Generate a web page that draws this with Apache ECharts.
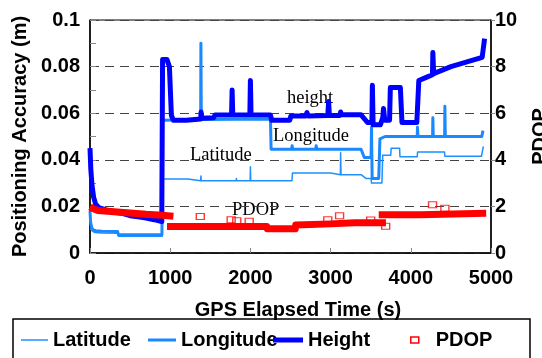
<!DOCTYPE html>
<html>
<head>
<meta charset="utf-8">
<script src="https://cdn.jsdelivr.net/npm/echarts@6/dist/echarts.min.js"></script>
<style>
  html, body { margin: 0; padding: 0; background: #fff; }
  #main { width: 542px; height: 358px; }
</style>
</head>
<body>
<div id="main"></div>
<script>
// axis ranges
const xMax = 5000, xStep = 1000;
const accMax = 0.1, accStep = 0.02;
const pdopMax = 10, pdopStep = 2;

// [elapsed time (s), accuracy (m)]
const latitudeData = [
  [0, 0.016], [8, 0.012], [25, 0.0095], [60, 0.0088], [150, 0.0086], [345, 0.0085], [355, 0.0072], [900, 0.0072],
  [902, 0.0318], [1220, 0.0318], [1225, 0.031], [1380, 0.031], [1383, 0.033], [1388, 0.031],
  [1822, 0.031], [1825, 0.032], [1830, 0.031], [1997, 0.031], [2000, 0.037], [2004, 0.031],
  [2518, 0.031], [2525, 0.0343], [3000, 0.0343], [3005, 0.0336], [3122, 0.0336], [3125, 0.043], [3130, 0.0336],
  [3380, 0.0336], [3440, 0.032], [3505, 0.032], [3510, 0.030], [3640, 0.030], [3650, 0.042], [3750, 0.042],
  [3755, 0.045], [3860, 0.045], [3865, 0.0413], [4080, 0.0413], [4085, 0.0434], [4420, 0.0434],
  [4425, 0.0415], [4880, 0.0415], [4885, 0.041], [4900, 0.041], [4905, 0.0457]
];
const longitudeData = [
  [0, 0.018], [8, 0.013], [25, 0.0105], [60, 0.0095], [150, 0.0093], [345, 0.0092], [355, 0.0078], [897, 0.0078],
  [903, 0.057], [1380, 0.0573], [1383, 0.090], [1388, 0.0573], [2250, 0.0575], [2258, 0.0445],
  [2515, 0.0445], [2520, 0.046], [2528, 0.0445], [2815, 0.0445], [2820, 0.046], [2828, 0.0445],
  [3380, 0.0445], [3420, 0.041], [3505, 0.041], [3510, 0.054], [3518, 0.032], [3600, 0.032],
  [3615, 0.049], [3680, 0.050], [4080, 0.050], [4083, 0.054], [4090, 0.050], [4272, 0.050],
  [4275, 0.058], [4280, 0.050], [4422, 0.050], [4425, 0.063], [4430, 0.050], [4885, 0.050], [4900, 0.0525]
];
const heightData = [
  [0, 0.045], [10, 0.036], [25, 0.029], [45, 0.024], [70, 0.021], [110, 0.0195], [200, 0.0185], [300, 0.0175],
  [400, 0.017], [500, 0.016], [600, 0.0155], [700, 0.015], [800, 0.0143], [895, 0.0135],
  [905, 0.083], [960, 0.083], [990, 0.080], [1015, 0.059], [1040, 0.057], [1200, 0.057], [1380, 0.0575],
  [1385, 0.0605], [1395, 0.0578], [1540, 0.058], [1560, 0.0592], [1765, 0.0592], [1772, 0.070], [1780, 0.0592],
  [1993, 0.0592], [2000, 0.074], [2008, 0.0592], [2250, 0.0592], [2265, 0.057], [2490, 0.057], [2505, 0.0588],
  [2690, 0.0588], [2705, 0.0603], [2720, 0.0588], [2965, 0.059], [2975, 0.065], [2985, 0.059],
  [3115, 0.059], [3125, 0.0605], [3135, 0.0593], [3380, 0.0593], [3460, 0.056], [3515, 0.056],
  [3521, 0.072], [3530, 0.055], [3620, 0.055], [3650, 0.058], [3660, 0.062], [3675, 0.057], [3735, 0.057],
  [3745, 0.071], [3870, 0.071], [3890, 0.056], [4075, 0.056], [4100, 0.074], [4200, 0.0755], [4270, 0.0765],
  [4275, 0.086], [4285, 0.077], [4500, 0.080], [4700, 0.082], [4890, 0.084], [4905, 0.088], [4920, 0.092]
];
// PDOP: three dense runs (drawn as a band) and isolated epochs
const pdopRun1 = [[0, 1.98], [40, 1.9], [100, 1.82], [300, 1.77], [500, 1.72], [700, 1.66], [900, 1.62], [1040, 1.58]];
const pdopRun2 = [[960, 1.14], [2205, 1.14], [2210, 1.04], [2560, 1.04], [2565, 1.2], [3000, 1.25], [3300, 1.3], [3690, 1.3]];
const pdopRun3 = [[3600, 1.64], [4120, 1.64], [4125, 1.71], [4940, 1.71]];
const pdopPoints = [
  [1375, 1.57], [1760, 1.43], [1830, 1.38], [1985, 1.36], [2965, 1.43], [3112, 1.6],
  [3500, 1.42], [3687, 1.15], [4271, 2.07], [4425, 1.92]
];

const sans = 'Arial, "Liberation Sans", sans-serif';
const serif = '"Times New Roman", "Liberation Serif", serif';
const tickLbl = { color: '#000', fontFamily: sans, fontWeight: 'bold', fontSize: 20 };
const legendText = { color: '#000', fontFamily: sans, fontWeight: 'bold', fontSize: 20 };

function legendAt(name, left, w, h, style) {
  return {
    data: [{ name: name, icon: 'rect', itemStyle: style }],
    left: left, top: 330, padding: 0, itemWidth: w, itemHeight: h,
    textStyle: legendText, selectedMode: false
  };
}

function note(text, x, y) {
  return {
    type: 'text', x: x, y: y, silent: true,
    style: { text: text, fontFamily: serif, fontSize: 18.5, fill: '#000', verticalAlign: 'middle' }
  };
}

function pdopRun(data) {
  return {
    name: 'PDOP', type: 'line', yAxisIndex: 1, data: data, symbol: 'none',
    lineStyle: { color: '#ff0000', width: 7, join: 'round' }, itemStyle: { color: '#ff0000' }
  };
}

var chart = echarts.init(document.getElementById('main'));
chart.setOption({
  animation: false,
  backgroundColor: '#fff',
  grid: {
    left: 90, right: 51, top: 20, bottom: 105, containLabel: false, outerBoundsMode: 'none',
    show: true, borderColor: '#000', borderWidth: 1
  },
  xAxis: {
    type: 'value', min: 0, max: xMax, interval: xStep,
    name: 'GPS Elapsed Time (s)', nameLocation: 'middle', nameGap: 47,
    nameTextStyle: { color: '#000', fontFamily: sans, fontWeight: 'bold', fontSize: 20, padding: [0, 0, 0, 15] },
    axisLine: { lineStyle: { color: '#000', width: 1.5 } },
    axisTick: { inside: true, length: 5, lineStyle: { color: '#888' } },
    axisLabel: Object.assign({ margin: 15, formatter: function (v) { return String(v); } }, tickLbl),
    splitLine: { show: false }
  },
  yAxis: [
    {
      type: 'value', min: 0, max: accMax, interval: accStep,
      name: 'Positioning Accuracy (m)', nameLocation: 'middle', nameGap: 58,
      nameTextStyle: { color: '#000', fontFamily: sans, fontWeight: 'bold', fontSize: 20 },
      axisLine: { show: true, lineStyle: { color: '#000', width: 1.5 } },
      axisTick: { inside: true, length: 6, lineStyle: { color: '#888' } },
      minorTick: { show: true, splitNumber: 2, length: 6, lineStyle: { color: '#888' } },
      axisLabel: Object.assign({ margin: 10 }, tickLbl),
      splitLine: { show: true, lineStyle: { color: '#444', width: 1.2, type: [9, 6] } }
    },
    {
      type: 'value', min: 0, max: pdopMax, interval: pdopStep,
      name: 'PDOP', nameLocation: 'middle', nameGap: 39, nameRotate: 90,
      nameTextStyle: { color: '#000', fontFamily: sans, fontWeight: 'bold', fontSize: 20 },
      axisLine: { show: true, lineStyle: { color: '#000', width: 1.5 } },
      axisTick: { inside: false, length: 4, lineStyle: { color: '#888' } },
      axisLabel: Object.assign({ margin: 4 }, tickLbl),
      splitLine: { show: false }
    }
  ],
  legend: [
    legendAt('Latitude', 21, 27, 1.5, { color: '#2090ff' }),
    legendAt('Longitude', 148, 28, 3, { color: '#1a88ff' }),
    legendAt('Height', 273, 30, 5, { color: '#0000ff' }),
    Object.assign(legendAt('PDOP', 410, 8, 6, { color: '#fff', borderColor: '#ff0000', borderWidth: 1.5 }),
      { textStyle: Object.assign({ padding: [0, 0, 0, 12] }, legendText) })
  ],
  graphic: [
    { type: 'rect', silent: true, shape: { x: 13, y: 319, width: 517, height: 60 },
      style: { fill: 'none', stroke: '#000', lineWidth: 1.5 } },
    note('Latitude', 190, 155),
    note('Longitude', 273, 136.5),
    note('height', 287, 98),
    note('PDOP', 232, 210)
  ],
  series: [
    {
      name: 'Latitude', type: 'line', data: latitudeData, symbol: 'none',
      lineStyle: { color: '#2090ff', width: 1.5, join: 'round' }, itemStyle: { color: '#2090ff' }
    },
    {
      name: 'Longitude', type: 'line', data: longitudeData, symbol: 'none',
      lineStyle: { color: '#1a88ff', width: 3, join: 'round' }, itemStyle: { color: '#1a88ff' }
    },
    {
      name: 'Height', type: 'line', data: heightData, symbol: 'none',
      lineStyle: { color: '#0000ff', width: 5, join: 'round' }, itemStyle: { color: '#0000ff' }
    },
    pdopRun(pdopRun1),
    pdopRun(pdopRun2),
    pdopRun(pdopRun3),
    {
      name: 'PDOP', type: 'scatter', yAxisIndex: 1, data: pdopPoints,
      symbol: 'rect', symbolSize: [8, 6],
      itemStyle: { color: 'rgba(255,255,255,0)', borderColor: '#ff0000', borderWidth: 1.2 }
    }
  ]
});
</script>
</body>
</html>
